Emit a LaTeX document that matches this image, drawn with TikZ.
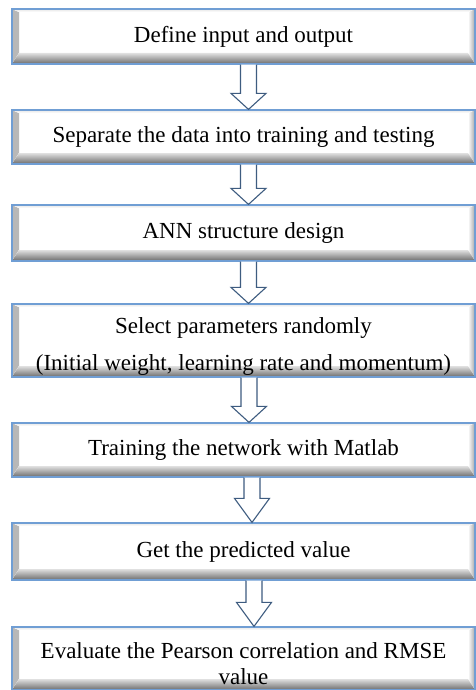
\documentclass[tikz,border=0pt]{standalone}
\usepackage{fontspec}
\setmainfont{Liberation Serif}
\usetikzlibrary{calc}
\definecolor{bblue}{RGB}{112,158,212}
\definecolor{aline}{RGB}{62,92,128}
\tikzset{
  stepbox/.style={draw=bblue, line width=1.2pt, fill=white, minimum width=463pt,
    inner sep=0pt, font=\fontsize{23}{27}\selectfont, align=center,
    path picture={
      \fill[left color=black!28, right color=white]
        (path picture bounding box.south west) -- (path picture bounding box.north west)
        -- ([shift={(7pt,-3pt)}]path picture bounding box.north west)
        -- ([shift={(7pt,11pt)}]path picture bounding box.south west) -- cycle;
      \fill[left color=white, right color=black!35]
        (path picture bounding box.south east) -- (path picture bounding box.north east)
        -- ([shift={(-7pt,-3pt)}]path picture bounding box.north east)
        -- ([shift={(-7pt,11pt)}]path picture bounding box.south east) -- cycle;
      \fill[top color=black!12, bottom color=black!58]
        (path picture bounding box.south west)
        -- ([shift={(7pt,11pt)}]path picture bounding box.south west)
        -- ([shift={(-7pt,11pt)}]path picture bounding box.south east)
        -- (path picture bounding box.south east) -- cycle;
      \fill[top color=black!10, bottom color=white]
        (path picture bounding box.north west)
        -- ([shift={(7pt,-3pt)}]path picture bounding box.north west)
        -- ([shift={(-7pt,-3pt)}]path picture bounding box.north east)
        -- (path picture bounding box.north east) -- cycle;
    }},
  barrowline/.style={draw=aline, line width=1.1pt, fill=white, line join=miter}
}
% #1 from node, #2 to node, #3 x centre, #4 head length
\newcommand{\blockarrow}[4]{%
  \filldraw[barrowline] let \p1=(#1.south), \p2=(#2.north) in
    (#3-8pt,\y1) -- (#3-8pt,\y2+#4) -- (#3-17.5pt,\y2+#4) -- (#3,\y2)
    -- (#3+17.5pt,\y2+#4) -- (#3+8pt,\y2+#4) -- (#3+8pt,\y1);}
\begin{document}
\begin{tikzpicture}[x=1pt,y=-1pt]
  \useasboundingbox[fill=white] (0,0) rectangle (476,690);
  \node[stepbox, minimum height=55pt] (b1) at (243.5,36.5) {Define input and output};
  \node[stepbox, minimum height=54pt] (b2) at (243.5,137) {Separate the data into training and testing};
  \node[stepbox, minimum height=56pt] (b3) at (243.5,233) {ANN structure design};
  \node[stepbox, minimum height=73pt] (b4) at (243.5,340.5) {\rule{0pt}{28pt}Select parameters randomly\\[10pt](Initial weight, learning rate and momentum)};
  \node[stepbox, minimum height=54pt] (b5) at (243.5,450) {Training the network with Matlab};
  \node[stepbox, minimum height=57pt] (b6) at (243.5,551.5) {Get the predicted value};
  \node[stepbox, minimum height=63pt, font=\fontsize{23}{26}\selectfont] (b7) at (243.5,658.5) {\rule{0pt}{26pt}Evaluate the Pearson correlation and RMSE\\value};
  \blockarrow{b1}{b2}{248.5pt}{16pt}
  \blockarrow{b2}{b3}{248.5pt}{16pt}
  \blockarrow{b3}{b4}{248.5pt}{16pt}
  \blockarrow{b4}{b5}{249pt}{16pt}
  \blockarrow{b5}{b6}{252pt}{24pt}
  \blockarrow{b6}{b7}{254pt}{24pt}
\end{tikzpicture}
\end{document}
